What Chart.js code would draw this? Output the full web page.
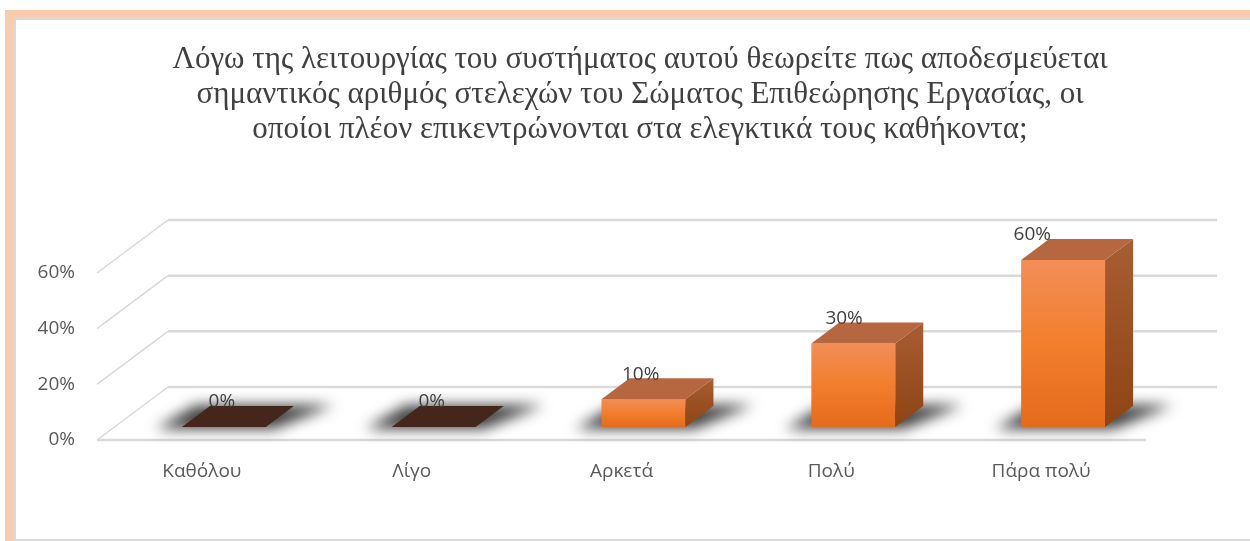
<!DOCTYPE html>
<html>
<head>
<meta charset="utf-8">
<script src="https://cdn.jsdelivr.net/npm/chart.js@4/dist/chart.umd.min.js"></script>
<style>
  html, body { margin: 0; padding: 0; background: #ffffff; }
  #c { display: block; }
</style>
</head>
<body>
<canvas id="c" width="1250" height="541"></canvas>
<script>
// ---- data ----
const titleLines = [
  'Λόγω της λειτουργίας του συστήματος αυτού θεωρείτε πως αποδεσμεύεται',
  'σημαντικός αριθμός στελεχών του Σώματος Επιθεώρησης Εργασίας, οι',
  'οποίοι πλέον επικεντρώνονται στα ελεγκτικά τους καθήκοντα;'
];
const categories = ['Καθόλου', 'Λίγο', 'Αρκετά', 'Πολύ', 'Πάρα πολύ'];
const values = [0, 0, 0.10, 0.30, 0.60];
const valueLabels = ['0%', '0%', '10%', '30%', '60%'];
const yTicks = [0, 0.2, 0.4, 0.6];

// ---- 3D geometry constants ----
const WALL_DX = 71, WALL_DY = -53;       // floor depth
const BAR_OFF_DX = 22, BAR_OFF_DY = -13; // bar front plane offset
const BAR_DX = 28, BAR_DY = -21;         // bar depth

const framePlugin = {
  id: 'frame',
  beforeDraw(chart) {
    const ctx = chart.ctx;
    ctx.save();
    ctx.fillStyle = '#ffffff';
    ctx.fillRect(0, 0, chart.width, chart.height);
    // peach border
    ctx.fillStyle = '#f8cbad';
    ctx.fillRect(5, 10, chart.width - 5, 7);
    ctx.fillRect(5, 10, 8, chart.height - 10);
    // gray inner lines
    ctx.fillStyle = '#d9d9d9';
    ctx.fillRect(13, 17, chart.width - 13, 3);
    ctx.fillRect(13, 17, 3, chart.height - 17);
    ctx.fillRect(13, chart.height - 2, chart.width - 13, 2);
    // title
    ctx.fillStyle = '#404040';
    ctx.font = '31px "Liberation Serif"';
    ctx.textAlign = 'center';
    ctx.textBaseline = 'middle';
    titleLines.forEach((t, i) => ctx.fillText(t, 640, 60 + i * 35));
    ctx.restore();
  }
};

const grid3dPlugin = {
  id: 'grid3d',
  beforeDatasetsDraw(chart) {
    const ctx = chart.ctx;
    const ys = chart.scales.y;
    const area = chart.chartArea;
    ctx.save();
    ctx.strokeStyle = '#d9d9d9';
    yTicks.forEach(v => {
      const y = ys.getPixelForValue(v);
      ctx.lineWidth = 2.5;
      ctx.beginPath();
      ctx.moveTo(area.left + WALL_DX, y + WALL_DY);
      ctx.lineTo(area.right + WALL_DX, y + WALL_DY);
      ctx.stroke();
      ctx.lineWidth = 1.5;
      ctx.beginPath();
      ctx.moveTo(area.left, y);
      ctx.lineTo(area.left + WALL_DX, y + WALL_DY);
      ctx.stroke();
    });
    const y0 = ys.getPixelForValue(0);
    ctx.lineWidth = 2.5;
    ctx.beginPath();
    ctx.moveTo(area.left, y0);
    ctx.lineTo(area.right, y0);
    ctx.stroke();
    ctx.restore();
  }
};

const bars3dPlugin = {
  id: 'bars3d',
  afterDatasetsDraw(chart) {
    const ctx = chart.ctx;
    const meta = chart.getDatasetMeta(0);
    ctx.save();
    meta.data.forEach((bar, i) => {
      const p = bar.getProps(['x', 'y', 'base', 'width'], true);
      const L = p.x - p.width / 2 + BAR_OFF_DX;
      const R = p.x + p.width / 2 + BAR_OFF_DX;
      const T = p.y + BAR_OFF_DY;
      const B = p.base + BAR_OFF_DY;
      // shadow
      ctx.save();
      ctx.filter = 'blur(7px)';
      ctx.fillStyle = 'rgba(30,30,30,0.85)';
      ctx.beginPath();
      ctx.moveTo(L - 26, B + 2);
      ctx.lineTo(R + 8, B + 2);
      ctx.lineTo(R + BAR_DX + 40, B + BAR_DY - 1);
      ctx.lineTo(L + BAR_DX - 14, B + BAR_DY - 1);
      ctx.closePath();
      ctx.fill();
      ctx.restore();

      if (B - T < 1) {
        // flat slab
        ctx.fillStyle = '#45261a';
        ctx.beginPath();
        ctx.moveTo(L, B);
        ctx.lineTo(R, B);
        ctx.lineTo(R + BAR_DX, B + BAR_DY);
        ctx.lineTo(L + BAR_DX, B + BAR_DY);
        ctx.closePath();
        ctx.fill();
      } else {
        // front face
        const gf = ctx.createLinearGradient(0, T, 0, B);
        gf.addColorStop(0, '#f28e58');
        gf.addColorStop(0.5, '#f27e2c');
        gf.addColorStop(1, '#e46b1b');
        ctx.fillStyle = gf;
        ctx.fillRect(L, T, R - L, B - T);
        // side face
        const gs = ctx.createLinearGradient(0, T + BAR_DY, 0, B);
        gs.addColorStop(0, '#a85d33');
        gs.addColorStop(1, '#8e4414');
        ctx.fillStyle = gs;
        ctx.beginPath();
        ctx.moveTo(R, T);
        ctx.lineTo(R + BAR_DX, T + BAR_DY);
        ctx.lineTo(R + BAR_DX, B + BAR_DY);
        ctx.lineTo(R, B);
        ctx.closePath();
        ctx.fill();
        // top face
        ctx.fillStyle = '#b7673f';
        ctx.beginPath();
        ctx.moveTo(L, T);
        ctx.lineTo(R, T);
        ctx.lineTo(R + BAR_DX, T + BAR_DY);
        ctx.lineTo(L + BAR_DX, T + BAR_DY);
        ctx.closePath();
        ctx.fill();
      }
      // value label
      const v = values[i];
      ctx.fillStyle = '#404040';
      ctx.font = '19px "Open Sans"';
      ctx.textAlign = 'center';
      ctx.textBaseline = 'middle';
      const cx = (L + R) / 2 - 2 - 80 * v * v;
      ctx.fillText(valueLabels[i], cx, T + BAR_DY - 4);
    });
    ctx.restore();
  }
};

new Chart(document.getElementById('c'), {
  type: 'bar',
  data: {
    labels: categories,
    datasets: [{
      data: values,
      backgroundColor: 'rgba(0,0,0,0)',
      borderWidth: 0,
      barPercentage: 0.4,
      categoryPercentage: 1.0
    }]
  },
  options: {
    responsive: false,
    animation: false,
    devicePixelRatio: 1,
    layout: { padding: { left: 0, right: 104, top: 273, bottom: 0 } },
    plugins: {
      legend: { display: false },
      tooltip: { enabled: false },
      title: { display: false }
    },
    scales: {
      x: {
        grid: { display: false, drawTicks: false },
        border: { display: false },
        ticks: { color: '#595959', font: { family: '"Open Sans"', size: 19 }, padding: 20, maxRotation: 0 },
        afterFit(scale) { scale.height = 101; }
      },
      y: {
        min: 0, max: 0.6,
        grid: { display: false, drawTicks: false },
        border: { display: false },
        afterBuildTicks(scale) { scale.ticks = yTicks.map(v => ({ value: v })); },
        ticks: {
          color: '#595959',
          font: { family: '"Open Sans"', size: 19 },
          padding: 22,
          callback: (v) => Math.round(v * 100) + '%'
        },
        afterFit(scale) { scale.width = 97; }
      }
    }
  },
  plugins: [framePlugin, grid3dPlugin, bars3dPlugin]
});
</script>
</body>
</html>
